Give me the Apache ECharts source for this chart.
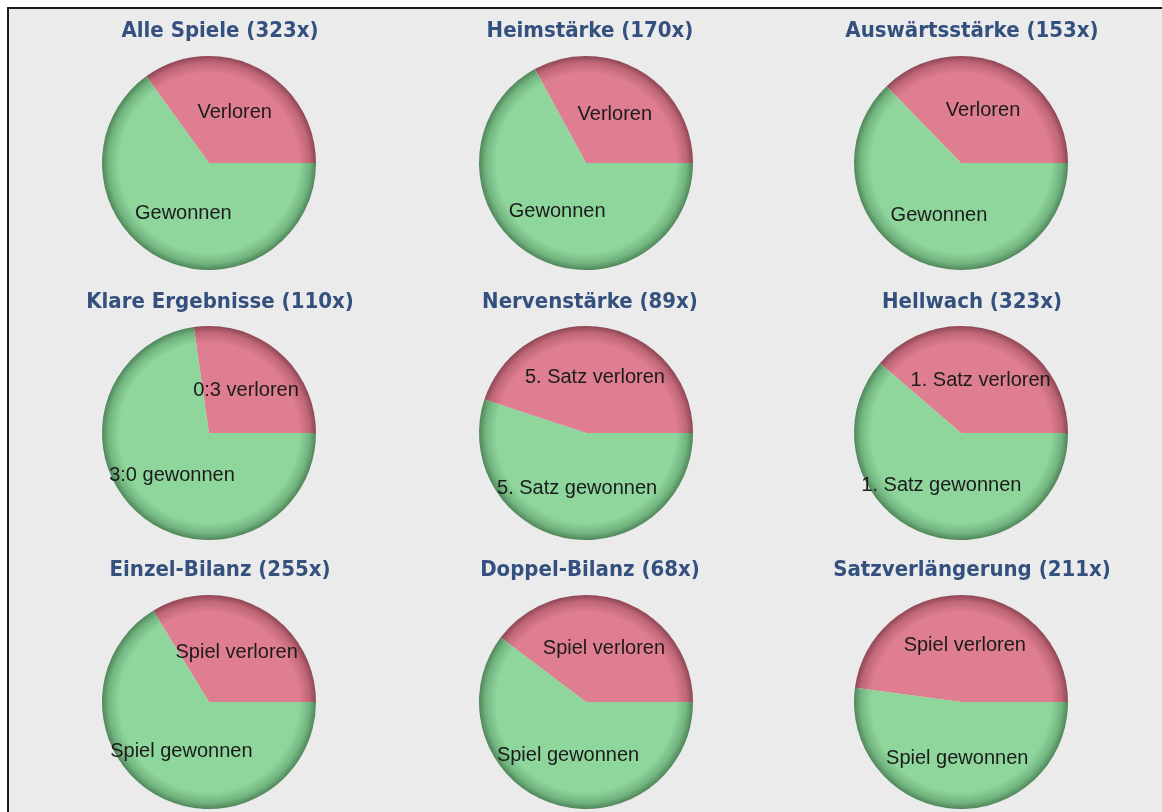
<!DOCTYPE html>
<html>
<head>
<meta charset="utf-8">
<title>Bilanz</title>
<script src="https://cdn.jsdelivr.net/npm/echarts@6/dist/echarts.min.js"></script>
<style>
  html, body { margin: 0; padding: 0; background: #ffffff; }
  #rahmen {
    position: absolute; left: 7px; top: 7px; right: 0; bottom: 0;
    background: #ebebeb;
    border-left: 2px solid #1c1c1c;
    border-top: 2px solid #1c1c1c;
  }
  #main { position: absolute; left: 0; top: 0; width: 1162px; height: 812px; }
</style>
</head>
<body>
<div id="rahmen"></div>
<div id="main"></div>
<script>
// Daten der neun Kuchen (Reihenfolge: zeilenweise)
var titel = ['Alle Spiele (323x)', 'Heimstärke (170x)', 'Auswärtsstärke (153x)',
             'Klare Ergebnisse (110x)', 'Nervenstärke (89x)', 'Hellwach (323x)',
             'Einzel-Bilanz (255x)', 'Doppel-Bilanz (68x)', 'Satzverlängerung (211x)'];
var verlorenText = ['Verloren', 'Verloren', 'Verloren',
                    '0:3 verloren', '5. Satz verloren', '1. Satz verloren',
                    'Spiel verloren', 'Spiel verloren', 'Spiel verloren'];
var gewonnenText = ['Gewonnen', 'Gewonnen', 'Gewonnen',
                    '3:0 gewonnen', '5. Satz gewonnen', '1. Satz gewonnen',
                    'Spiel gewonnen', 'Spiel gewonnen', 'Spiel gewonnen'];
var verloren = [113, 56, 57, 30, 40, 125, 86, 27, 101];
var gewonnen = [210, 114, 96, 80, 49, 198, 169, 41, 110];

// Raster
var spalteX = [209, 586, 961];
var titelX = [220, 590, 972];
var zeileY = [163, 433, 702];
var titelY = [31, 302, 570];
var radius = 107;

var myChart = echarts.init(document.getElementById('main'), null, {renderer: 'canvas'});

function verlauf(cx, cy, c1, c2, c3) {
    return {
        type: 'radial', x: cx, y: cy, r: radius, global: true,
        colorStops: [
            {offset: 0, color: c1},
            {offset: 0.84, color: c1},
            {offset: 0.94, color: c2},
            {offset: 1, color: c3}
        ]
    };
}

var titles = [];
var series = [];
for (var i = 0; i < titel.length; i++) {
    var cx = spalteX[i % 3], cy = zeileY[Math.floor(i / 3)];
    titles.push({
        text: titel[i],
        left: titelX[i % 3],
        top: titelY[Math.floor(i / 3)],
        textAlign: 'center',
        textVerticalAlign: 'middle',
        padding: 0,
        textStyle: {
            fontFamily: '"DejaVu Sans Condensed", "DejaVu Sans", sans-serif',
            fontWeight: 'bold',
            fontSize: 22,
            color: '#34507e'
        }
    });
    series.push({
        type: 'pie',
        center: [cx, cy],
        radius: [0, radius],
        startAngle: 0,
        clockwise: false,
        avoidLabelOverlap: false,
        silent: true,
        label: {
            show: true,
            position: 'inside',
            formatter: '{b}',
            fontFamily: '"Liberation Sans", Arial, sans-serif',
            fontSize: 20,
            color: '#1b1b1b'
        },
        labelLine: {show: false},
        itemStyle: {borderWidth: 0},
        emphasis: {disabled: true},
        data: [
            {name: verlorenText[i], value: verloren[i],
             itemStyle: {color: verlauf(cx, cy, '#de7e90', '#bf6677', '#8e4654')}},
            {name: gewonnenText[i], value: gewonnen[i],
             itemStyle: {color: verlauf(cx, cy, '#8ed69c', '#72b480', '#4f8659')}}
        ]
    });
}

myChart.setOption({
    animation: false,
    backgroundColor: 'transparent',
    title: titles,
    series: series
});
</script>
</body>
</html>
